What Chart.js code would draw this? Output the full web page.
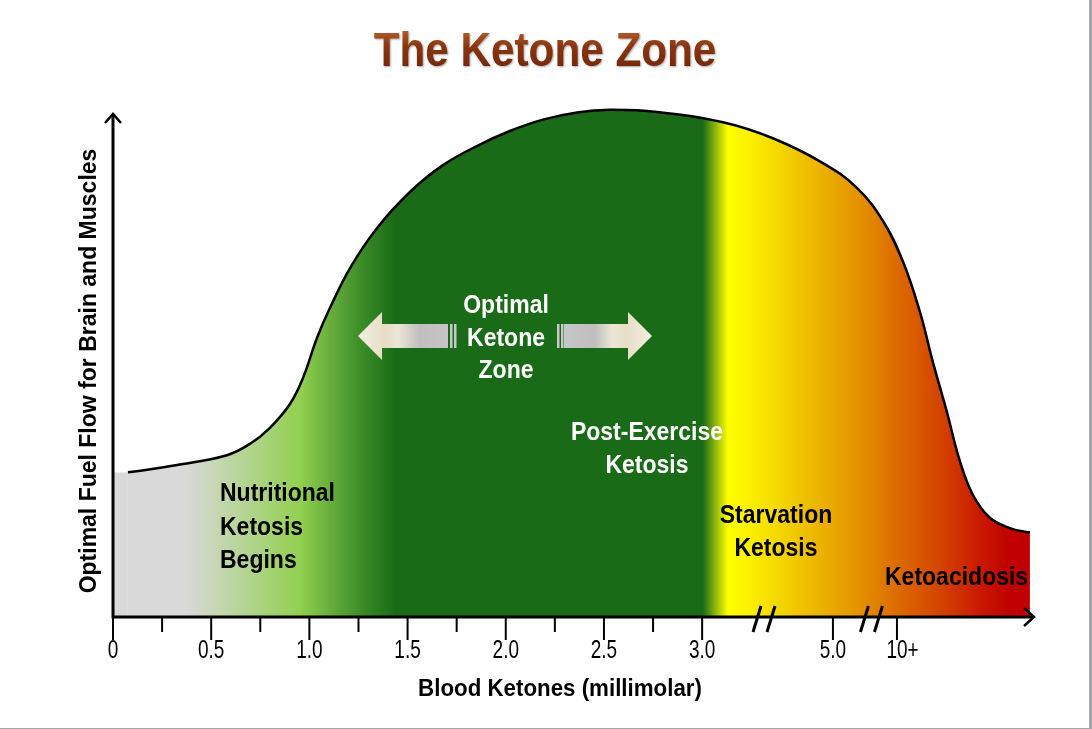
<!DOCTYPE html>
<html lang="en">
<head>
<meta charset="UTF-8">
<title>The Ketone Zone</title>
<script src="https://cdn.jsdelivr.net/npm/chart.js"></script>
<style>
    body {
        margin: 0;
        background-color: #fff;
    }
    canvas {
        display: block;
    }
</style>
</head>
<body>
<canvas id="ketoneChart" width="1092" height="729"></canvas>
<script>
// curve: x = position on the ketone axis, y = relative fuel flow (0-100)
const curveX = [0, 0.076, 0.326, 0.580, 0.698, 0.799, 0.901, 0.967, 1.039, 1.105,
    1.207, 1.344, 1.512, 1.680, 1.853, 2.021, 2.189, 2.363, 2.531, 2.770,
    3.106, 3.360, 3.615, 3.788, 3.921, 4.023, 4.109, 4.175, 4.246, 4.312,
    4.379, 4.465, 4.567, 4.654, 4.669];
const curveY = [28.0, 28.0, 29.4, 31.3, 33.5, 36.6, 41.2, 46.2, 54.0, 59.8,
    67.5, 75.2, 82.2, 87.4, 91.1, 94.0, 96.2, 97.6, 98.1, 97.7,
    95.7, 92.6, 87.8, 83.0, 76.6, 68.7, 59.0, 49.3, 39.7, 30.2,
    23.6, 19.2, 17.2, 16.4, 16.4];

// axis ticks (the axis is broken after 3.0, so 5.0 and 10+ sit closer)
const tickValues = [0, 0.25, 0.5, 0.75, 1.0, 1.25, 1.5, 1.75, 2.0, 2.25, 2.5, 2.75, 3.0, 3.666, 3.992];
const tickLabels = ['0', '', '0.5', '', '1.0', '', '1.5', '', '2.0', '', '2.5', '', '3.0', '5.0', '10+'];
const breakValues = [3.315, 3.862];

// colour bands of the fill (position on axis, colour)
const zoneStops = [
    [0, '#d9d9d9'], [0.367, '#d9d9d9'], [0.952, '#92d050'], [1.25, '#3f8f2a'], [1.436, '#1a6b17'],
    [3.004, '#1a6b17'], [3.131, '#ffff00'], [3.24, '#fbf000'], [3.498, '#f0c400'], [3.803, '#e49000'],
    [4.007, '#dc6800'], [4.21, '#d44400'], [4.41, '#c91a00'], [4.567, '#c00000'], [4.7, '#c00000']
];

const FONT = '"Liberation Sans", Arial, sans-serif';

function zoneFill(c) {
    const chart = c.chart;
    const area = chart.chartArea;
    if (!area) return null;
    const xs = chart.scales.x;
    const g = chart.ctx.createLinearGradient(area.left, 0, area.right, 0);
    zoneStops.forEach(([v, col]) => {
        let t = (xs.getPixelForValue(v) - area.left) / area.width;
        g.addColorStop(Math.min(1, Math.max(0, t)), col);
    });
    return g;
}

function txt(ctx, s, x, y, size, o) {
    ctx.save();
    ctx.font = (o.bold ? 'bold ' : '') + size + 'px ' + FONT;
    ctx.fillStyle = o.color || '#000';
    ctx.textAlign = o.align || 'center';
    ctx.textBaseline = o.base || 'middle';
    ctx.translate(x, y);
    if (o.rot) ctx.rotate(o.rot);
    ctx.scale(o.sx || 1, 1);
    ctx.fillText(s, 0, 0);
    ctx.restore();
}

function drawArrow(ctx) {
    // double headed arrow around "Optimal Ketone Zone"
    const cy = 336, hh = 24, sh = 12;
    ctx.save();
    // left head + shaft
    let g = ctx.createLinearGradient(358, 0, 448, 0);
    g.addColorStop(0, '#f3eedf');
    g.addColorStop(0.3, '#e7dec6');
    g.addColorStop(0.45, '#ece6d6');
    g.addColorStop(0.68, '#bfbfbf');
    g.addColorStop(1, '#c6c6c6');
    ctx.fillStyle = g;
    ctx.beginPath();
    ctx.moveTo(358, cy);
    ctx.lineTo(382, cy - hh);
    ctx.lineTo(382, cy - sh);
    ctx.lineTo(448, cy - sh);
    ctx.lineTo(448, cy + sh);
    ctx.lineTo(382, cy + sh);
    ctx.lineTo(382, cy + hh);
    ctx.closePath();
    ctx.fill();
    ctx.fillStyle = '#c9c9c9';
    ctx.fillRect(450, cy - sh, 2.5, sh * 2);
    ctx.fillRect(454, cy - sh, 2.5, sh * 2);
    ctx.fillRect(557, cy - sh, 2.5, sh * 2);
    ctx.fillRect(561, cy - sh, 2.5, sh * 2);
    // right shaft + head
    g = ctx.createLinearGradient(564, 0, 652, 0);
    g.addColorStop(0, '#c6c6c6');
    g.addColorStop(0.35, '#bfbfbf');
    g.addColorStop(0.55, '#ece6d6');
    g.addColorStop(0.72, '#e7dec6');
    g.addColorStop(1, '#f3eedf');
    ctx.fillStyle = g;
    ctx.beginPath();
    ctx.moveTo(652, cy);
    ctx.lineTo(628, cy - hh);
    ctx.lineTo(628, cy - sh);
    ctx.lineTo(564, cy - sh);
    ctx.lineTo(564, cy + sh);
    ctx.lineTo(628, cy + sh);
    ctx.lineTo(628, cy + hh);
    ctx.closePath();
    ctx.fill();
    ctx.restore();
}

function drawTitle(ctx) {
    const s = 'The Ketone Zone', x = 545, base = 66;
    ctx.save();
    ctx.font = 'bold 48px ' + FONT;
    ctx.textAlign = 'center';
    ctx.textBaseline = 'alphabetic';
    // faint reflection
    ctx.save();
    ctx.beginPath();
    ctx.rect(300, base + 1, 500, 22);
    ctx.clip();
    ctx.translate(x, base * 2 + 2);
    ctx.scale(0.88, -1);
    ctx.globalAlpha = 0.25;
    ctx.fillStyle = '#8a3511';
    ctx.fillText(s, 0, 0);
    ctx.restore();
    let fade = ctx.createLinearGradient(0, base + 1, 0, base + 20);
    fade.addColorStop(0, 'rgba(255,255,255,0.15)');
    fade.addColorStop(1, 'rgba(255,255,255,1)');
    ctx.fillStyle = fade;
    ctx.fillRect(300, base + 1, 500, 22);
    // main text
    ctx.translate(x, base);
    ctx.scale(0.88, 1);
    const g = ctx.createLinearGradient(0, -36, 0, 0);
    g.addColorStop(0, '#b3602a');
    g.addColorStop(0.45, '#8a3511');
    g.addColorStop(1, '#76290a');
    ctx.shadowColor = 'rgba(0,0,0,0.35)';
    ctx.shadowBlur = 2;
    ctx.shadowOffsetX = 1;
    ctx.shadowOffsetY = 1;
    ctx.fillStyle = g;
    ctx.fillText(s, 0, 0);
    ctx.restore();
}

const ketoneDecor = {
    id: 'ketoneDecor',
    afterDraw(chart) {
        const ctx = chart.ctx;
        const xs = chart.scales.x;
        const area = chart.chartArea;
        const x0 = area.left, y0 = area.bottom;

        ctx.save();
        ctx.strokeStyle = '#000';
        ctx.lineCap = 'butt';
        // axes with arrow heads
        ctx.lineWidth = 3;
        ctx.beginPath();
        ctx.moveTo(x0, y0 + 1.5);
        ctx.lineTo(x0, 114);
        ctx.moveTo(x0 - 1.5, y0);
        ctx.lineTo(1034, y0);
        ctx.stroke();
        ctx.lineWidth = 2.5;
        ctx.lineJoin = 'miter';
        ctx.beginPath();
        ctx.moveTo(x0 - 8, 123);
        ctx.lineTo(x0, 114);
        ctx.lineTo(x0 + 8, 123);
        ctx.moveTo(1024, y0 - 9);
        ctx.lineTo(1034, y0);
        ctx.lineTo(1024, y0 + 9);
        ctx.stroke();

        // tick marks + labels
        ctx.lineWidth = 2;
        tickValues.forEach((v, i) => {
            const px = xs.getPixelForValue(v);
            const major = tickLabels[i] !== '';
            ctx.beginPath();
            ctx.moveTo(px, y0);
            ctx.lineTo(px, y0 + (major ? 23 : 15));
            ctx.stroke();
            const lab = tickLabels[i];
            if (!lab) return;
            if (lab.endsWith('+')) {
                ctx.font = '25px ' + FONT;
                const w = ctx.measureText(lab.slice(0, -1)).width * 0.76;
                txt(ctx, lab, px - w / 2, 651, 25, { sx: 0.76, align: 'left' });
            } else {
                txt(ctx, lab, px, 651, 25, { sx: 0.76 });
            }
        });

        // axis break marks
        ctx.lineWidth = 3;
        breakValues.forEach(v => {
            const px = xs.getPixelForValue(v);
            [-7, 7].forEach(d => {
                ctx.beginPath();
                ctx.moveTo(px + d - 4, y0 + 15);
                ctx.lineTo(px + d + 4, y0 - 11);
                ctx.stroke();
            });
        });
        ctx.restore();

        // axis titles
        txt(ctx, 'Blood Ketones (millimolar)', 560, 690, 23, { bold: true, sx: 0.97 });
        txt(ctx, 'Optimal Fuel Flow for Brain and Muscles', 90, 371, 23, { bold: true, rot: -Math.PI / 2 });

        // zone labels
        const b = { bold: true, sx: 0.92 };
        txt(ctx, 'Nutritional', 220, 494, 25, Object.assign({ align: 'left' }, b));
        txt(ctx, 'Ketosis', 220, 528, 25, Object.assign({ align: 'left' }, b));
        txt(ctx, 'Begins', 220, 561, 25, Object.assign({ align: 'left' }, b));

        drawArrow(ctx);
        const w = Object.assign({ color: '#fff' }, b);
        txt(ctx, 'Optimal', 506, 306, 25, w);
        txt(ctx, 'Ketone', 506, 339, 25, w);
        txt(ctx, 'Zone', 506, 371, 25, w);
        txt(ctx, 'Post-Exercise', 647, 433, 25, w);
        txt(ctx, 'Ketosis', 647, 466, 25, w);

        txt(ctx, 'Starvation', 776, 516, 25, b);
        txt(ctx, 'Ketosis', 776, 549, 25, b);
        txt(ctx, 'Ketoacidosis', 885, 578, 25, Object.assign({ align: 'left' }, b));

        drawTitle(ctx);

        // slide frame on the right and bottom
        ctx.save();
        ctx.fillStyle = '#a3a7a7';
        ctx.fillRect(1089, 0, 3, 729);
        ctx.fillRect(0, 728, 1092, 1);
        ctx.restore();
    }
};

const ctx = document.getElementById('ketoneChart').getContext('2d');
new Chart(ctx, {
    type: 'line',
    data: {
        datasets: [{
            label: 'Fuel flow',
            data: curveX.map((x, i) => ({ x: x, y: curveY[i] })),
            borderColor: '#000',
            borderWidth: 2.5,
            segment: {
                // the line starts just right of the axis; the fill reaches the axis
                borderColor: c => c.p0DataIndex === 0 ? 'rgba(0,0,0,0)' : '#000'
            },
            backgroundColor: zoneFill,
            fill: 'origin',
            pointRadius: 0,
            tension: 0.4
        }]
    },
    options: {
        responsive: false,
        animation: false,
        devicePixelRatio: 1,
        layout: { padding: { left: 113, right: 56, top: 100, bottom: 112 } },
        plugins: {
            legend: { display: false },
            tooltip: { enabled: false }
        },
        scales: {
            x: { type: 'linear', min: 0, max: 4.7, display: false },
            y: { min: 0, max: 100, display: false }
        }
    },
    plugins: [ketoneDecor]
});
</script>
</body>
</html>
